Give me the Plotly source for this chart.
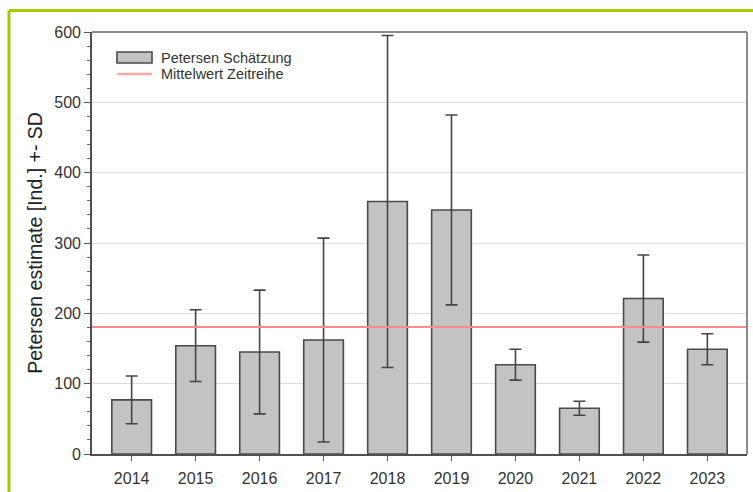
import numpy as np
import plotly.graph_objects as go

years = ["2014", "2015", "2016", "2017", "2018", "2019", "2020", "2021", "2022", "2023"]
estimate = [77, 154, 145, 162, 359, 347, 127, 65, 221, 149]
sd = [34, 51, 88, 145, 236, 135, 22, 10, 62, 22]
mean_value = float(np.mean(estimate))

y_ticks = [0, 100, 200, 300, 400, 500, 600]
legend_labels = ["Petersen Schätzung", "Mittelwert Zeitreihe"]

FONT = "Liberation Sans, Arial, sans-serif"
GREEN = "#a9c80a"
BAR_FILL = "#c3c3c3"
BAR_LINE = "#4a4a4a"
MEAN_COLOR = "#ff8c8c"

fig = go.Figure()

fig.add_trace(go.Bar(
    x=years, y=estimate,
    name=legend_labels[0],
    marker=dict(color=BAR_FILL, line=dict(color=BAR_LINE, width=1.6)),
    width=0.62,
    error_y=dict(type="data", array=sd, visible=True, color="#454545",
                 thickness=1.6, width=6),
    showlegend=False,
))

fig.add_trace(go.Scatter(
    x=[-0.62, 9.62], y=[mean_value, mean_value],
    mode="lines", name=legend_labels[1],
    line=dict(color=MEAN_COLOR, width=2),
    xaxis="x2", showlegend=False,
))

# legend drawn inside the plot (paper coordinates)
def px_x(p):
    return (p - 92) / 655.0

def px_y(p):
    return (454.0 - p) / 422.0

shapes = [
    # top and right frame of plot area
    dict(type="line", xref="paper", yref="paper", x0=0, x1=1, y0=1, y1=1,
         line=dict(color="#8a8a8a", width=2)),
    dict(type="line", xref="paper", yref="paper", x0=1, x1=1, y0=0, y1=1,
         line=dict(color="#8a8a8a", width=2)),
    # green outer border (left and top)
    dict(type="line", xref="paper", yref="paper", x0=px_x(9), x1=px_x(9),
         y0=px_y(10.5), y1=-0.2, line=dict(color=GREEN, width=3)),
    dict(type="line", xref="paper", yref="paper", x0=px_x(9), x1=1.2,
         y0=px_y(10.5), y1=px_y(10.5), line=dict(color=GREEN, width=3)),
    # legend symbols
    dict(type="rect", xref="paper", yref="paper",
         x0=px_x(117), x1=px_x(152), y0=px_y(63), y1=px_y(52),
         fillcolor=BAR_FILL, line=dict(color=BAR_LINE, width=1.6)),
    dict(type="line", xref="paper", yref="paper",
         x0=px_x(117), x1=px_x(152), y0=px_y(74), y1=px_y(74),
         line=dict(color="#ffa8a8", width=2.5)),
]

annotations = [
    dict(xref="paper", yref="paper", x=px_x(159), y=px_y(58), text=legend_labels[0],
         showarrow=False, xanchor="left", yanchor="middle",
         font=dict(family=FONT, size=14.5, color="#333333")),
    dict(xref="paper", yref="paper", x=px_x(159), y=px_y(74), text=legend_labels[1],
         showarrow=False, xanchor="left", yanchor="middle",
         font=dict(family=FONT, size=14.5, color="#333333")),
]

fig.update_layout(
    width=753, height=492,
    margin=dict(l=92, r=6, t=32, b=38),
    paper_bgcolor="white", plot_bgcolor="white",
    font=dict(family=FONT, size=16, color="#222222"),
    showlegend=False,
    xaxis=dict(
        type="category", range=[-0.62, 9.62],
        showgrid=False, ticks="outside", ticklen=5, tickcolor="#555555",
        tickwidth=1.2, showline=True, linecolor="#505050", linewidth=1.6,
        tickfont=dict(size=16, color="#333333"), zeroline=False,
        ticklabelstandoff=4,
    ),
    xaxis2=dict(range=[-0.62, 9.62], overlaying="x", visible=False),
    yaxis=dict(
        range=[0, 600], tickvals=y_ticks,
        showgrid=True, gridcolor="#dedede", gridwidth=1,
        ticks="outside", ticklen=6, tickcolor="#555555", tickwidth=1.2,
        minor=dict(dtick=20, ticks="outside", ticklen=3, tickcolor="#666666",
                   showgrid=False),
        showline=True, linecolor="#505050", linewidth=1.6,
        tickfont=dict(size=16, color="#333333"), zeroline=False,
        title=dict(text="Petersen estimate [Ind.] +- SD",
                   font=dict(size=19.5, color="#222222"), standoff=6),
    ),
    shapes=shapes,
    annotations=annotations,
)

fig.write_html("out.html")
